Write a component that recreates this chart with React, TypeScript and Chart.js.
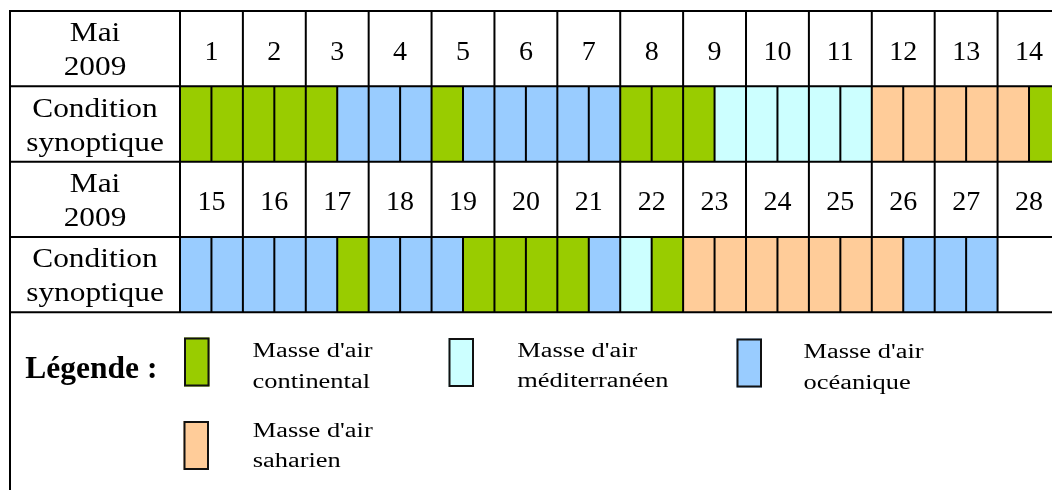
import React, { useEffect, useRef } from "react";
import { Chart, registerables } from "chart.js";

Chart.register(...registerables);

// ---------- DATA ----------
const ROWS = ["jours1", "cond1", "jours2", "cond2"];
const DAYS_1 = ["1", "2", "3", "4", "5", "6", "7", "8", "9", "10", "11", "12", "13", "14"];
const DAYS_2 = ["15", "16", "17", "18", "19", "20", "21", "22", "23", "24", "25", "26", "27", "28"];
const HEADER_LABEL = ["Mai", "2009"];
const CONDITION_LABEL = ["Condition", "synoptique"];

// Two half-day cells per day. C = continental, M = méditerranéen, O = océanique, S = saharien, "" = none
const COND_1 = [
  "C", "C", "C", "C", "C", "O", "O", "O", "C", "O", "O", "O", "O", "O",
  "C", "C", "C", "M", "M", "M", "M", "M", "S", "S", "S", "S", "S", "C",
];
const COND_2 = [
  "O", "O", "O", "O", "O", "C", "O", "O", "O", "C", "C", "C", "C", "O",
  "M", "C", "S", "S", "S", "S", "S", "S", "S", "O", "O", "O", "", "",
];

const MASS_CODES = ["C", "M", "O", "S"];
const MASS_NAMES = ["continental", "méditerranéen", "océanique", "saharien"];
const MASS_COLORS = ["#99CC00", "#CCFFFF", "#99CCFF", "#FFCC99"];
const LEGEND_TITLE = "Légende :";
const LEGEND_PREFIX = "Masse d'air";

// ---------- LAYOUT / STYLE ----------
const W = 1052;
const H = 490;
const TABLE_LEFT = 10;
const LABEL_COL_RIGHT = 180;
const TABLE_TOP = 11;
const TABLE_BOTTOM = 312.3;
const DAY_WIDTH = 62.89;
const LINE_W = 2;
const SERIF = "'Liberation Serif', 'Times New Roman', serif";
const TABLE_FONT = `28px ${SERIF}`;
const LABEL_STRETCH = 1.12;
const LEGEND_FONT = `20.5px ${SERIF}`;
const LEGEND_STRETCH = 1.29;
const TITLE_FONT = `bold 31.5px ${SERIF}`;
// legend item layout: swatch box + text origin + baselines
const LEGEND_LAYOUT = [
  { sx: 184, sy: 337.5, tx: 252.5, b1: 356.7, b2: 388 },
  { sx: 448.5, sy: 338, tx: 517.3, b1: 356.7, b2: 386.5 },
  { sx: 736.5, sy: 338.5, tx: 803.5, b1: 358.3, b2: 388.5 },
  { sx: 183.5, sy: 421, tx: 252.7, b1: 436.7, b2: 467 },
];
const SWATCH_W = 25.5;
const SWATCH_H = 49;
const TITLE_POS = { x: 25.3, y: 378.3 };

function cellsFor(code: string) {
  const out: { x: [number, number]; y: string }[] = [];
  [COND_1, COND_2].forEach((cond, r) => {
    const row = ROWS[r * 2 + 1];
    cond.forEach((c, i) => {
      if (c === code) out.push({ x: [i * 0.5, i * 0.5 + 0.5], y: row });
    });
  });
  return out;
}

function drawStretched(ctx: CanvasRenderingContext2D, text: string, x: number, y: number, sx: number, align: CanvasTextAlign) {
  ctx.save();
  ctx.translate(x, y);
  ctx.scale(sx, 1);
  ctx.textAlign = align;
  ctx.textBaseline = "alphabetic";
  ctx.fillText(text, 0, 0);
  ctx.restore();
}

const tablePlugin = {
  id: "tableGrid",
  afterDatasetsDraw(chart: any) {
    const { ctx, scales } = chart;
    const xs = scales.x;
    const ys = scales.y;
    const rowH = ys.getPixelForValue(1) - ys.getPixelForValue(0);
    const rowTop = (i: number) => ys.getPixelForValue(0) - rowH / 2 + i * rowH;
    const nDays = DAYS_1.length;
    ctx.save();
    ctx.strokeStyle = "#000";
    ctx.lineWidth = LINE_W;
    ctx.beginPath();
    for (let i = 0; i <= ROWS.length; i++) {
      const y = rowTop(i);
      ctx.moveTo(TABLE_LEFT - 1, y);
      ctx.lineTo(chart.width, y);
    }
    ctx.moveTo(TABLE_LEFT, rowTop(0) - 1);
    ctx.lineTo(TABLE_LEFT, chart.height);
    for (let d = 0; d <= nDays; d++) {
      const x = xs.getPixelForValue(d);
      ctx.moveTo(x, rowTop(0));
      ctx.lineTo(x, rowTop(ROWS.length));
    }
    [COND_1, COND_2].forEach((cond, r) => {
      const ri = r * 2 + 1;
      for (let d = 0; d < nDays; d++) {
        if (cond[2 * d] || cond[2 * d + 1]) {
          const x = xs.getPixelForValue(d + 0.5);
          ctx.moveTo(x, rowTop(ri));
          ctx.lineTo(x, rowTop(ri + 1));
        }
      }
    });
    ctx.stroke();
    ctx.restore();
  },
  afterDraw(chart: any) {
    const { ctx, scales, chartArea } = chart;
    const xs = scales.x;
    const ys = scales.y;
    const rowH = ys.getPixelForValue(1) - ys.getPixelForValue(0);
    const rowTop = (i: number) => ys.getPixelForValue(0) - rowH / 2 + i * rowH;
    const labelX = (TABLE_LEFT + chartArea.left) / 2;
    ctx.save();
    ctx.fillStyle = "#000";
    ctx.font = TABLE_FONT;
    ROWS.forEach((_, i) => {
      const top = rowTop(i);
      const lines = i % 2 === 0 ? HEADER_LABEL : CONDITION_LABEL;
      drawStretched(ctx, lines[0], labelX, top + 30.4, LABEL_STRETCH, "center");
      drawStretched(ctx, lines[1], labelX, top + 64.4, LABEL_STRETCH, "center");
    });
    [DAYS_1, DAYS_2].forEach((days, r) => {
      const top = rowTop(r * 2);
      days.forEach((d, i) => {
        drawStretched(ctx, d, xs.getPixelForValue(i + 0.5), top + 48.7, 1, "center");
      });
    });
    // legend
    ctx.font = TITLE_FONT;
    drawStretched(ctx, LEGEND_TITLE, TITLE_POS.x, TITLE_POS.y, 1, "left");
    ctx.font = LEGEND_FONT;
    MASS_NAMES.forEach((name, i) => {
      const L = LEGEND_LAYOUT[i];
      ctx.fillStyle = MASS_COLORS[i];
      ctx.fillRect(L.sx, L.sy, SWATCH_W, SWATCH_H);
      ctx.strokeStyle = "#111";
      ctx.lineWidth = 2;
      ctx.strokeRect(L.sx + 1, L.sy + 1, SWATCH_W - 2, SWATCH_H - 2);
      ctx.fillStyle = "#000";
      drawStretched(ctx, LEGEND_PREFIX, L.tx, L.b1, LEGEND_STRETCH, "left");
      drawStretched(ctx, name, L.tx, L.b2, LEGEND_STRETCH, "left");
    });
    ctx.restore();
  },
};

export default function App() {
  const ref = useRef<HTMLCanvasElement | null>(null);
  useEffect(() => {
    if (!ref.current) return;
    const xMax = (W - LABEL_COL_RIGHT) / DAY_WIDTH;
    const chart = new Chart(ref.current, {
      type: "bar",
      data: {
        labels: ROWS,
        datasets: MASS_CODES.map((code, i) => ({
          label: MASS_NAMES[i],
          data: cellsFor(code) as any,
          backgroundColor: MASS_COLORS[i],
          borderWidth: 0,
          grouped: false,
          categoryPercentage: 1,
          barPercentage: 1,
        })),
      },
      options: {
        indexAxis: "y",
        responsive: false,
        animation: false,
        devicePixelRatio: 1,
        layout: {
          padding: { left: LABEL_COL_RIGHT, right: 0, top: TABLE_TOP, bottom: H - TABLE_BOTTOM },
        },
        scales: {
          x: { type: "linear", min: 0, max: xMax, display: false },
          y: { type: "category", display: false, offset: true },
        },
        plugins: { legend: { display: false }, tooltip: { enabled: false } },
      },
      plugins: [tablePlugin],
    });
    return () => chart.destroy();
  }, []);
  return (
    <div style={{ position: "fixed", left: 0, top: 0, width: W, height: H, background: "#fff", overflow: "hidden" }}>
      <canvas ref={ref} width={W} height={H} style={{ display: "block" }} />
    </div>
  );
}
